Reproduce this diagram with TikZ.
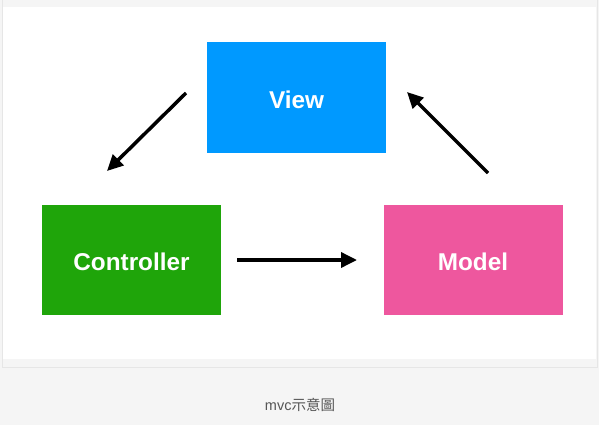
\documentclass[tikz,border=0pt]{standalone}
\usepackage{fontspec}
\setmainfont{Liberation Sans}
\newfontfamily\cjkfont{Noto Sans CJK TC}
\usetikzlibrary{arrows.meta}
\definecolor{viewblue}{HTML}{0099FF}
\definecolor{ctrlgreen}{HTML}{1FA50A}
\definecolor{modelpink}{HTML}{EE579E}
\definecolor{pagebg}{HTML}{F5F5F5}
\definecolor{framebd}{HTML}{E6E6E6}
\definecolor{captgray}{HTML}{555555}
\begin{document}
\begin{tikzpicture}[x=1pt,y=-1pt,
  box/.style={draw=none,minimum width=179pt,minimum height=110pt,inner sep=0pt,
    text height=21.5pt,text depth=0pt,
    text=white,font=\fontsize{24.3}{28}\selectfont\bfseries},
  conn/.style={line width=3.5pt,-{Triangle[length=16pt,width=15pt]}}]
\fill[pagebg] (0,0) rectangle (599,425);
\useasboundingbox (0,0) rectangle (599,425);
\filldraw[fill=pagebg,draw=framebd,line width=1pt] (2.5,-1) rectangle (597,367);
\fill[white] (3,7) rectangle (596,358.5);
\node[box,fill=viewblue] (view) at (296.5,97.5) {View};
\node[box,fill=ctrlgreen] (ctrl) at (131.5,259.5) {Controller};
\node[box,fill=modelpink] (model) at (473,259.5) {Model};
\coordinate (a1s) at (186,93);
\coordinate (a1e) at (107,171);
\coordinate (a2s) at (237,260);
\coordinate (a2e) at (357,260);
\coordinate (a3s) at (488,173);
\coordinate (a3e) at (407,92);
\draw[conn] (a1s) -- (a1e);
\draw[conn] (a2s) -- (a2e);
\draw[conn] (a3s) -- (a3e);
\node[text=captgray,font=\fontsize{14.5}{16}\selectfont] (cap) at (300,405) {mvc{\cjkfont 示意圖}};
\end{tikzpicture}
\end{document}
